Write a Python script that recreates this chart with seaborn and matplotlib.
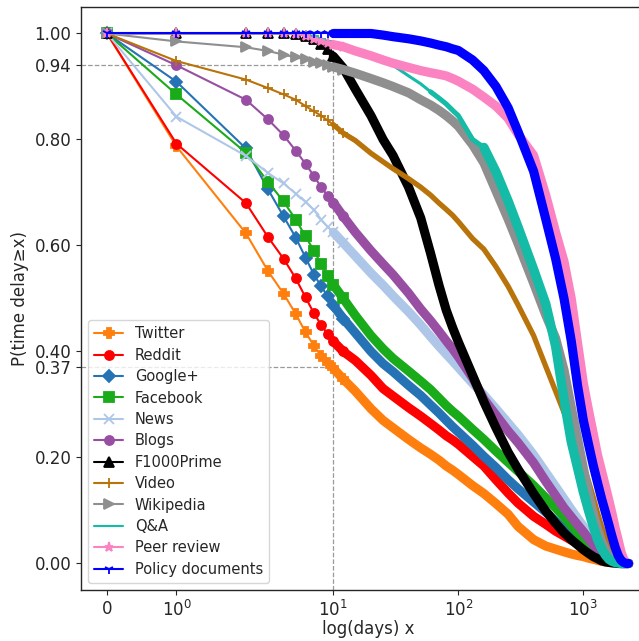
import matplotlib
matplotlib.use("Agg")
import matplotlib.pyplot as plt
import seaborn as sns
from matplotlib.ticker import FixedLocator, FixedFormatter, NullLocator

# ---------------- data ----------------
DAYS = [0, 1, 2, 3, 4, 5, 6, 7, 8, 9, 10,
        12, 15, 20, 25, 30, 40, 50, 60, 70, 80, 90, 100,
        130, 160, 200, 250, 300, 400, 500, 600, 700, 800,
        900, 1000, 1100, 1200, 1300, 1400, 1500, 1600, 1700, 1800, 1900, 2000, 2100, 2200, 2300]

TWITTER = [1.0, 0.787, 0.623, 0.552, 0.509, 0.471, 0.436, 0.411, 0.391, 0.379, 0.368,
           0.348, 0.325, 0.292, 0.270, 0.256, 0.234, 0.218, 0.206, 0.195, 0.184, 0.176, 0.168,
           0.147, 0.132, 0.113, 0.093, 0.070, 0.045, 0.033, 0.027, 0.022, 0.018,
           0.015, 0.013, 0.010, 0.008, 0.006, 0.004, 0.003, 0.002, 0.002, 0.001, 0.001, 0.0, 0.0, 0.0, 0.0]
REDDIT = [1.0, 0.792, 0.680, 0.616, 0.575, 0.538, 0.502, 0.472, 0.450, 0.433, 0.419,
          0.400, 0.383, 0.355, 0.330, 0.316, 0.294, 0.278, 0.264, 0.252, 0.241, 0.233, 0.225,
          0.202, 0.184, 0.158, 0.133, 0.114, 0.089, 0.074, 0.061, 0.052, 0.044,
          0.037, 0.030, 0.024, 0.019, 0.014, 0.010, 0.007, 0.005, 0.003, 0.002, 0.001, 0.0, 0.0, 0.0, 0.0]
GOOGLE = [1.0, 0.909, 0.783, 0.706, 0.655, 0.615, 0.577, 0.545, 0.523, 0.504, 0.487,
          0.462, 0.435, 0.400, 0.377, 0.362, 0.336, 0.317, 0.299, 0.284, 0.270, 0.258, 0.248,
          0.223, 0.202, 0.181, 0.158, 0.141, 0.116, 0.097, 0.080, 0.065, 0.052,
          0.041, 0.032, 0.024, 0.018, 0.012, 0.008, 0.005, 0.003, 0.002, 0.001, 0.0, 0.0, 0.0, 0.0, 0.0]
FACEBOOK = [1.0, 0.885, 0.775, 0.720, 0.683, 0.649, 0.617, 0.590, 0.565, 0.542, 0.526,
            0.500, 0.468, 0.430, 0.405, 0.387, 0.363, 0.344, 0.328, 0.312, 0.298, 0.287, 0.278,
            0.253, 0.234, 0.212, 0.191, 0.174, 0.147, 0.124, 0.105, 0.088, 0.072,
            0.058, 0.047, 0.036, 0.026, 0.018, 0.012, 0.008, 0.005, 0.003, 0.002, 0.001, 0.0, 0.0, 0.0, 0.0]
NEWS = [1.0, 0.843, 0.769, 0.737, 0.717, 0.698, 0.682, 0.667, 0.649, 0.635, 0.625,
        0.605, 0.580, 0.548, 0.525, 0.505, 0.475, 0.450, 0.428, 0.410, 0.395, 0.382, 0.370,
        0.340, 0.318, 0.292, 0.265, 0.243, 0.205, 0.172, 0.145, 0.122, 0.102,
        0.085, 0.070, 0.057, 0.045, 0.034, 0.025, 0.018, 0.012, 0.008, 0.005, 0.003, 0.001, 0.0, 0.0, 0.0]
BLOGS = [1.0, 0.940, 0.875, 0.838, 0.808, 0.779, 0.754, 0.731, 0.710, 0.694, 0.681,
         0.655, 0.625, 0.590, 0.565, 0.545, 0.510, 0.480, 0.458, 0.438, 0.420, 0.405, 0.390,
         0.350, 0.310, 0.280, 0.250, 0.228, 0.190, 0.155, 0.128, 0.105, 0.088,
         0.073, 0.060, 0.047, 0.035, 0.026, 0.018, 0.012, 0.008, 0.005, 0.003, 0.001, 0.0, 0.0, 0.0, 0.0]
F1000 = [1.0, 1.0, 1.0, 1.0, 1.0, 0.999, 0.996, 0.990, 0.980, 0.970, 0.957,
         0.935, 0.895, 0.845, 0.800, 0.770, 0.710, 0.652, 0.585, 0.525, 0.478, 0.445, 0.418,
         0.355, 0.305, 0.256, 0.210, 0.178, 0.132, 0.099, 0.076, 0.058, 0.045,
         0.035, 0.026, 0.019, 0.013, 0.009, 0.005, 0.003, 0.002, 0.001, 0.001, 0.0, 0.0, 0.0, 0.0, 0.0]
VIDEO = [1.0, 0.948, 0.913, 0.897, 0.885, 0.875, 0.863, 0.853, 0.845, 0.836, 0.828,
         0.812, 0.798, 0.774, 0.758, 0.745, 0.726, 0.710, 0.695, 0.680, 0.668, 0.657, 0.645,
         0.613, 0.593, 0.560, 0.523, 0.488, 0.430, 0.372, 0.325, 0.285, 0.250,
         0.220, 0.185, 0.155, 0.125, 0.095, 0.070, 0.050, 0.032, 0.020, 0.010, 0.005, 0.002, 0.0, 0.0, 0.0]
WIKIPEDIA = [1.0, 0.985, 0.974, 0.967, 0.960, 0.955, 0.951, 0.947, 0.944, 0.940, 0.937,
             0.932, 0.925, 0.915, 0.907, 0.900, 0.888, 0.875, 0.865, 0.855, 0.845, 0.835, 0.825,
             0.790, 0.756, 0.703, 0.650, 0.604, 0.529, 0.469, 0.425, 0.365, 0.295,
             0.235, 0.180, 0.133, 0.095, 0.065, 0.042, 0.026, 0.015, 0.008, 0.004, 0.002, 0.001, 0.0, 0.0, 0.0]
QA = [1.0, 1.0, 1.0, 1.0, 1.0, 0.999, 0.998, 0.995, 0.990, 0.986, 0.983,
      0.978, 0.970, 0.960, 0.950, 0.940, 0.920, 0.905, 0.890, 0.878, 0.867, 0.855, 0.845,
      0.800, 0.785, 0.739, 0.684, 0.635, 0.555, 0.490, 0.410, 0.310, 0.230,
      0.180, 0.135, 0.100, 0.070, 0.045, 0.028, 0.016, 0.008, 0.004, 0.002, 0.001, 0.0, 0.0, 0.0, 0.0]
PEER = [1.0, 1.0, 1.0, 1.0, 1.0, 0.999, 0.996, 0.990, 0.986, 0.982, 0.979,
        0.975, 0.967, 0.958, 0.950, 0.944, 0.936, 0.930, 0.926, 0.923, 0.920, 0.915, 0.910,
        0.895, 0.880, 0.863, 0.840, 0.810, 0.770, 0.695, 0.625, 0.570, 0.500,
        0.415, 0.340, 0.289, 0.245, 0.204, 0.174, 0.146, 0.119, 0.093, 0.066, 0.044, 0.022, 0.008, 0.002, 0.0]
POLICY = [1.0, 1.0, 1.0, 1.0, 1.0, 1.0, 1.0, 1.0, 1.0, 1.0, 1.0,
          1.0, 1.0, 1.0, 0.997, 0.994, 0.990, 0.986, 0.982, 0.978, 0.975, 0.971, 0.968,
          0.950, 0.930, 0.900, 0.860, 0.815, 0.740, 0.650, 0.575, 0.500, 0.420,
          0.335, 0.270, 0.225, 0.185, 0.152, 0.122, 0.097, 0.073, 0.050, 0.030, 0.015, 0.006, 0.002, 0.0, 0.0]

NAMES = ["Twitter", "Reddit", "Google+", "Facebook", "News", "Blogs", "F1000Prime",
         "Video", "Wikipedia", "Q&A", "Peer review", "Policy documents"]
SERIES = [TWITTER, REDDIT, GOOGLE, FACEBOOK, NEWS, BLOGS, F1000, VIDEO,
          WIKIPEDIA, QA, PEER, POLICY]

YTICKS = [0.0, 0.2, 0.37, 0.4, 0.6, 0.8, 0.94, 1.0]
XTICKS = [0, 1, 10, 100, 1000]
XTICKLABELS = ["0", "$10^0$", "$10^1$", "$10^2$", "$10^3$"]
REF_X = 10
REF_Y = [0.94, 0.37]

# ---------------- style ----------------
MARKERS = ["P", "o", "D", "s", "x", "o", "^", "+", ">", "_", "*", "1"]
COLORS = ["#ff7f0e", "#ff0000", "#2573b5", "#1aab1a", "#aec7e8", "#984ea3",
          "#000000", "#b8730a", "#8f8f8f", "#14bba6", "#fb83c2", "#0000ff"]
# band widths of the dense-marker part: list of (start_day, width)
BANDS = {name: [(10, 6.6)] for name in NAMES}
BANDS["Video"] = [(10, 3.8)]
BANDS["Q&A"] = [(10, 2.2), (60, 3.6), (160, 6.8)]

sns.set_style("ticks")
plt.rcParams["font.family"] = ["DejaVu Sans"]
plt.rcParams.update({
    "xtick.labelsize": 12,
    "ytick.labelsize": 12,
    "axes.labelsize": 12,
    "legend.fontsize": 10.5,
    "axes.linewidth": 1.0,
})

fig = plt.figure(figsize=(6.39, 6.41), dpi=100)
ax = fig.add_axes([0.1268, 0.0796, 0.8977, 0.9095])
ax.set_xscale("symlog", linthresh=2, linscale=1)

n_thin = DAYS.index(12) + 1
for name, vals, mk, col in zip(NAMES, SERIES, MARKERS, COLORS):
    sns.lineplot(x=DAYS[:n_thin], y=vals[:n_thin], ax=ax, color=col, marker=mk,
                 markersize=6.5, markeredgecolor=col, markeredgewidth=1.3,
                 linewidth=1.5, label=name, sort=False)
    bands = BANDS[name]
    for i, (start, width) in enumerate(bands):
        i0 = DAYS.index(start)
        i1 = DAYS.index(bands[i + 1][0]) + 1 if i + 1 < len(bands) else len(DAYS)
        sns.lineplot(x=DAYS[i0:i1], y=vals[i0:i1], ax=ax, color=col,
                     linewidth=width, solid_capstyle="round", solid_joinstyle="round",
                     legend=False, sort=False)

xlo, xhi = -0.3744, 3718
ylo, yhi = -0.05, 1.05
ax.set_xlim(xlo, xhi)
ax.set_ylim(ylo, yhi)

for yv in REF_Y:
    ax.plot([xlo, REF_X], [yv, yv], ls="--", color="#9a9a9a", lw=0.9, zorder=0.5)
ax.plot([REF_X, REF_X], [ylo, max(REF_Y)], ls="--", color="#9a9a9a", lw=0.9, zorder=0.5)

ax.xaxis.set_major_locator(FixedLocator(XTICKS))
ax.xaxis.set_major_formatter(FixedFormatter(XTICKLABELS))
ax.xaxis.set_minor_locator(NullLocator())
ax.yaxis.set_major_locator(FixedLocator(YTICKS))
ax.yaxis.set_major_formatter(FixedFormatter([f"{v:.2f}" for v in YTICKS]))
ax.yaxis.set_minor_locator(NullLocator())

ax.set_xlabel("log(days) x", labelpad=0.5)
ax.set_ylabel("P(time delay≥x)")

ax.legend(loc="lower left", fontsize=10.5, labelspacing=0.44)

fig.savefig("out.png", dpi=100)
